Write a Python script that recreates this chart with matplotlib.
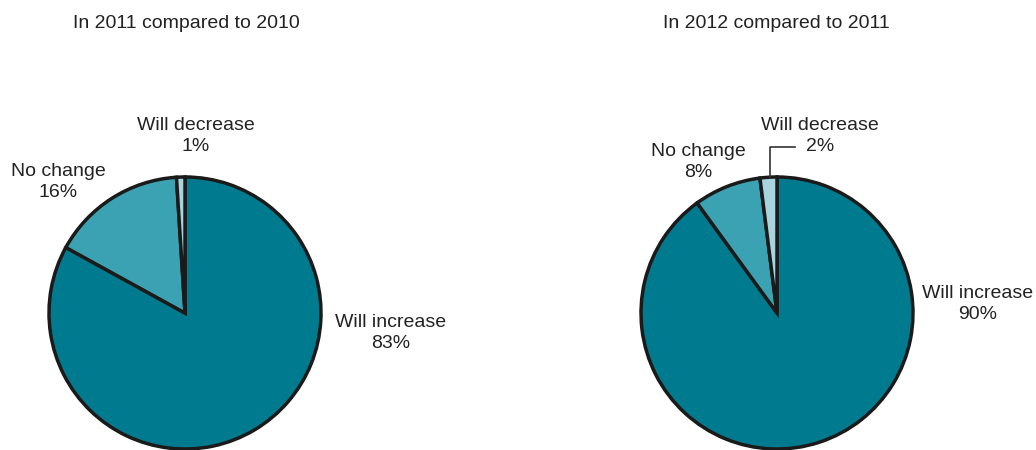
import matplotlib
matplotlib.use("Agg")
import matplotlib.pyplot as plt

plt.rcParams['font.family'] = ['Liberation Sans', 'DejaVu Sans']

categories = ["Will increase", "No change", "Will decrease"]
values_2011 = [83, 16, 1]
values_2012 = [90, 8, 2]
titles = ["In 2011 compared to 2010", "In 2012 compared to 2011"]
colors = ["#007a8e", "#3aa2b2", "#a8d4de"]

W, H = 1036, 450
fig = plt.figure(figsize=(W / 100, H / 100), dpi=100)
ax = fig.add_axes([0, 0, 1, 1])
ax.set_xlim(0, W)
ax.set_ylim(0, H)
ax.set_aspect('equal')
ax.axis('off')

def py(y):
    return H - y

R = 136
centers = [(185, 313), (777, 313)]
for vals, (cx, cy) in zip([values_2011, values_2012], centers):
    ax.pie(vals, colors=colors, startangle=90, counterclock=False,
           center=(cx, py(cy)), radius=R, normalize=True,
           wedgeprops=dict(edgecolor='#1a1a1a', linewidth=2.5))
ax.set_xlim(0, W)
ax.set_ylim(0, H)

fs = 14
ax.text(73, py(23), titles[0], ha='left', va='center', fontsize=fs, color='#222222')
ax.text(663, py(23), titles[1], ha='left', va='center', fontsize=fs, color='#222222')

labels = [
    (196, 136, categories[2], values_2011[2]),
    (58, 182, categories[1], values_2011[1]),
    (391, 333, categories[0], values_2011[0]),
    (820, 136, categories[2], values_2012[2]),
    (698, 162, categories[1], values_2012[1]),
    (978, 304, categories[0], values_2012[0]),
]
for x, y, name, v in labels:
    ax.text(x, py(y), f"{name}\n{v}%", ha='center', va='center', fontsize=fs,
            color='#222222', linespacing=1.25)

ax.plot([770, 770, 795], [py(177), py(147), py(147)], color='#333333', lw=1.2)

fig.savefig("out.png", dpi=100)
